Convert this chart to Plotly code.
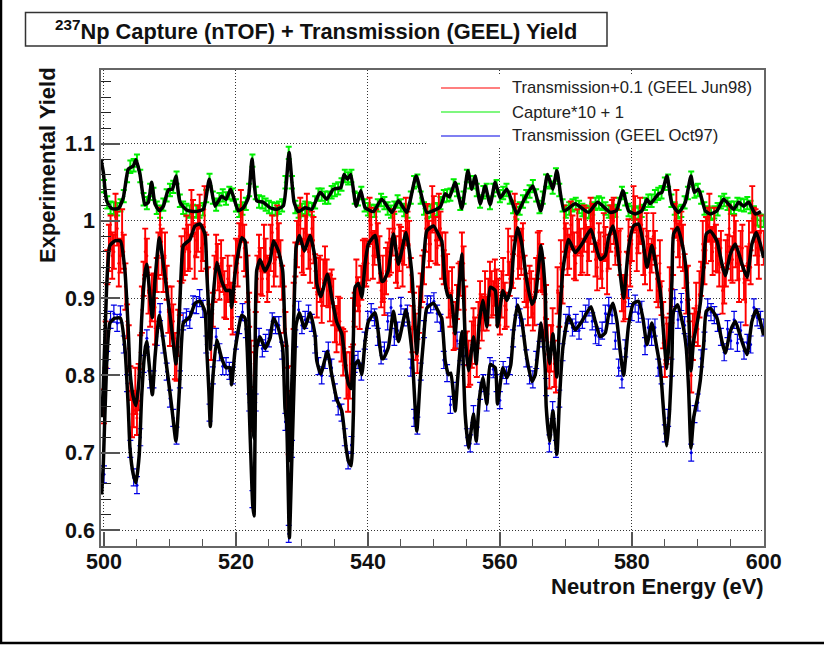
import numpy as np
import plotly.graph_objects as go

TITLE = "<sup>237</sup>Np Capture (nTOF) + Transmission (GEEL) Yield"
X_TITLE = "Neutron Energy (eV)"
Y_TITLE = "Experimental Yield"
LEGEND = ["Transmission+0.1 (GEEL Jun98)", "Capture*10 + 1", "Transmission (GEEL Oct97)"]
X_TICKS = [500, 520, 540, 560, 580, 600]
Y_TICKS = [0.6, 0.7, 0.8, 0.9, 1.0, 1.1]
Y_TICK_TEXT = ["0.6", "0.7", "0.8", "0.9", "1", "1.1"]

capture_fit_e = [499.54,499.9,500.4,501.16,502.17,502.93,503.69,504.44,504.85,505.46,506.2,506.72,507.22,507.73,508.39,509.0,509.75,510.36,510.91,511.52,512.53,513.8,515.06,515.97,516.83,517.84,518.5,519.2,520.37,521.12,521.88,522.44,523.15,524.16,525.17,526.18,527.19,528.05,528.81,529.47,530.48,531.49,532.75,533.76,534.77,535.89,536.39,536.9,537.4,538.21,538.92,539.58,540.84,542.1,543.62,544.63,545.89,547.31,548.93,550.95,551.71,552.37,553.22,554.24,555.15,555.75,556.26,557.02,557.77,558.53,559.29,560.05,561.06,562.58,563.59,565.0,566.21,567.22,568.03,568.64,569.75,571.42,573.44,574.81,576.73,577.64,578.65,579.5,580.52,581.53,582.29,582.79,584.05,584.56,585.32,586.08,587.09,588.1,588.96,589.46,590.12,591.13,591.89,592.9,593.91,595.43,596.19,596.94,597.7,598.71,599.57]
capture_fit_y = [1.08,1.063,1.026,1.016,1.016,1.03,1.067,1.071,1.079,1.06,1.021,1.024,1.05,1.022,1.013,1.019,1.04,1.041,1.058,1.024,1.014,1.012,1.015,1.054,1.019,1.032,1.028,1.041,1.013,1.017,1.03,1.08,1.026,1.024,1.017,1.015,1.0195,1.0885,1.024,1.012,1.017,1.015,1.037,1.028,1.041,1.043,1.06,1.054,1.06,1.019,1.039,1.017,1.012,1.028,1.011,1.026,1.011,1.058,1.011,1.018,1.035,1.031,1.05,1.016,1.065,1.041,1.058,1.022,1.045,1.021,1.05,1.03,1.041,1.009,1.026,1.045,1.013,1.06,1.041,1.065,1.013,1.022,1.011,1.024,1.011,1.013,1.039,1.013,1.009,1.013,1.028,1.022,1.035,1.037,1.058,1.022,1.011,1.024,1.058,1.037,1.041,1.013,1.009,1.013,1.028,1.015,1.024,1.019,1.024,1.009,1.012]

trans_fit_e = [499.64,499.9,500.4,500.9,501.66,502.5,503.18,503.69,503.94,504.44,504.85,505.35,505.7,506.2,506.47,507.33,507.73,508.39,509.0,509.75,510.26,510.91,511.42,511.77,512.03,513.04,513.8,514.55,515.3,515.6,515.9,516.12,516.47,517.08,517.84,518.5,519.1,519.35,519.86,520.87,521.38,521.73,522.13,522.54,522.74,522.9,523.15,523.65,524.4,525.17,525.68,526.43,527.09,527.44,527.7,528.1,528.45,528.96,529.11,529.62,530.38,531.24,531.99,532.25,532.85,533.86,534.52,535.28,536.04,536.7,537.05,537.45,537.8,538.06,538.56,539.07,539.58,540.08,541.09,542.1,542.35,543.1,543.87,544.63,545.79,546.65,547.41,547.91,548.42,548.93,549.94,550.95,551.2,551.71,552.21,552.57,553.22,553.58,554.08,554.24,554.74,555.25,555.5,556.0,556.41,556.91,557.42,558.03,558.53,559.29,559.64,560.45,561.06,561.66,562.07,562.68,563.33,563.99,564.85,565.35,566.26,566.87,567.02,567.53,568.03,568.64,569.04,569.55,570.41,571.42,572.43,573.8,574.45,575.21,575.97,576.47,577.13,577.74,578.24,578.75,579.5,580.26,581.02,581.68,582.29,583.04,583.8,584.31,584.56,584.81,585.32,585.72,586.08,586.33,586.94,587.75,588.25,588.6,588.96,589.36,589.97,590.37,590.88,591.28,591.89,592.9,593.66,594.16,594.92,595.68,596.69,597.45,598.2,598.87,599.47,599.97]
trans_fit_y = [0.646,0.685,0.814,0.868,0.874,0.874,0.835,0.757,0.706,0.672,0.661,0.698,0.771,0.832,0.844,0.775,0.823,0.878,0.844,0.795,0.76,0.715,0.78,0.845,0.868,0.876,0.8935,0.896,0.883,0.83,0.78,0.734,0.793,0.846,0.822,0.81,0.81,0.788,0.832,0.878,0.874,0.83,0.728,0.633,0.618,0.728,0.836,0.85,0.835,0.848,0.874,0.861,0.835,0.757,0.737,0.59,0.685,0.832,0.865,0.881,0.861,0.881,0.852,0.819,0.802,0.831,0.801,0.769,0.754,0.706,0.689,0.683,0.75,0.814,0.819,0.801,0.845,0.87,0.881,0.822,0.822,0.836,0.883,0.844,0.885,0.833,0.728,0.793,0.845,0.887,0.8935,0.878,0.874,0.819,0.801,0.803,0.754,0.793,0.845,0.857,0.75,0.706,0.719,0.75,0.715,0.771,0.797,0.763,0.814,0.81,0.763,0.81,0.797,0.814,0.857,0.891,0.87,0.827,0.792,0.801,0.868,0.809,0.76,0.715,0.754,0.698,0.771,0.836,0.876,0.859,0.87,0.889,0.87,0.85,0.855,0.878,0.8935,0.87,0.831,0.8,0.865,0.8935,0.896,0.874,0.84,0.868,0.835,0.809,0.784,0.754,0.709,0.754,0.823,0.883,0.8914,0.865,0.835,0.784,0.706,0.745,0.771,0.793,0.84,0.883,0.887,0.874,0.844,0.829,0.857,0.87,0.844,0.827,0.87,0.885,0.87,0.852]

# measured points, 0.5 eV bins
energy_half = [500 + i * 0.5 for i in range(201)]
energy_quarter = [500.25 + i * 0.5 for i in range(200)]

capture_pts = [1.045,1.024,1.017,1.016,1.015,1.02,1.032,1.058,1.07,1.072,1.078,1.058,1.028,1.023,1.04,1.035,1.017,1.012,1.021,1.033,1.04,1.044,1.056,1.026,1.017,1.014,1.012,1.013,1.012,1.012,1.015,1.032,1.053,1.03,1.021,1.028,1.033,1.029,1.036,1.034,1.02,1.013,1.016,1.022,1.04,1.078,1.036,1.025,1.024,1.021,1.018,1.016,1.015,1.017,1.02,1.05,1.088,1.05,1.018,1.012,1.014,1.017,1.016,1.015,1.024,1.034,1.034,1.03,1.03,1.037,1.04,1.042,1.047,1.058,1.055,1.058,1.03,1.028,1.036,1.02,1.015,1.013,1.013,1.02,1.027,1.023,1.016,1.012,1.017,1.025,1.02,1.014,1.012,1.03,1.05,1.052,1.03,1.016,1.011,1.013,1.014,1.015,1.023,1.032,1.033,1.034,1.046,1.04,1.022,1.03,1.058,1.05,1.05,1.04,1.025,1.037,1.04,1.023,1.04,1.045,1.032,1.036,1.04,1.03,1.018,1.01,1.016,1.025,1.032,1.038,1.045,1.033,1.018,1.03,1.052,1.05,1.043,1.06,1.04,1.02,1.012,1.016,1.02,1.022,1.018,1.014,1.012,1.011,1.016,1.022,1.024,1.022,1.016,1.012,1.012,1.013,1.022,1.036,1.028,1.014,1.011,1.009,1.011,1.013,1.022,1.026,1.026,1.032,1.035,1.037,1.048,1.052,1.026,1.016,1.011,1.013,1.024,1.036,1.056,1.038,1.04,1.03,1.016,1.011,1.009,1.011,1.015,1.024,1.027,1.022,1.017,1.017,1.022,1.021,1.02,1.023,1.018,1.011,1.002,1.0,1.0]

trans_98_a = [0.76,0.94,0.985,0.96,0.99,0.955,0.96,0.87,0.79,0.755,0.745,0.83,0.925,0.955,0.885,0.91,0.93,0.995,0.93,0.92,0.86,0.87,0.815,0.9,0.945,0.985,0.96,1.005,0.975,1.012,0.97,0.96,0.87,0.885,0.96,0.92,0.93,0.895,0.92,0.875,0.955,0.975,0.995,0.95,0.885,0.75,0.86,0.96,0.925,0.955,0.93,0.985,0.95,0.975,0.92,0.86,0.72,0.79,0.95,0.995,0.955,0.985,0.96,0.99,0.935,0.93,0.89,0.945,0.91,0.915,0.865,0.88,0.84,0.835,0.775,0.815,0.885,0.905,0.92,0.955,0.945,0.995,0.965,0.975,0.91,0.9,0.95,0.955,0.99,0.935,0.97,0.965,0.99,0.93,0.885,0.825,0.91,0.94,1.0,0.97,1.01,0.965,0.99,0.94,0.935,0.885,0.855,0.895,0.925,0.945,0.835,0.81,0.865,0.82,0.9,0.88,0.88,0.925,0.9,0.915,0.875,0.93,0.885,0.925,0.935,1.0,0.96,0.975,0.91,0.92,0.88,0.93,0.965,0.93,0.895,0.805,0.865,0.8,0.885,0.915,0.975,0.96,0.985,0.945,0.98,0.955,0.995,0.97,1.0,0.95,0.975,0.935,0.97,0.96,1.005,0.965,0.965,0.905,0.895,0.98,0.97,1.01,0.98,0.995,0.94,0.965,0.955,0.965,0.91,0.9,0.82,0.845,0.89,1.0,0.975,0.99,0.935,0.92,0.8,0.865,0.86,0.925,0.94,0.995,0.97,0.995,0.955,0.965,0.915,0.96,0.945,0.985,0.945,0.965,0.92,0.945,0.94,0.995,0.965,0.985,0.965]

trans_98_b = [0.84,0.965,0.955,1.005,0.945,0.985,0.915,0.835,0.75,0.78,0.785,0.885,0.96,0.91,0.9,0.87,0.955,0.96,0.955,0.885,0.885,0.825,0.855,0.95,0.96,0.965,1.01,0.955,0.99,0.965,1.015,0.91,0.85,0.925,0.94,0.945,0.905,0.925,0.89,0.925,0.945,1.01,0.965,0.925,0.815,0.8,0.925,0.935,0.965,0.925,0.965,0.945,0.99,0.945,0.885,0.78,0.75,0.89,0.97,1.0,0.96,1.005,0.95,0.975,0.905,0.925,0.92,0.92,0.9,0.895,0.86,0.87,0.83,0.8,0.8,0.87,0.92,0.89,0.945,0.945,1.0,0.955,0.985,0.95,0.925,0.935,0.96,0.985,0.95,0.965,0.945,1.0,0.97,0.86,0.85,0.885,0.925,0.99,0.97,1.015,0.975,1.005,0.955,0.955,0.905,0.91,0.865,0.915,0.955,0.885,0.815,0.84,0.845,0.865,0.875,0.905,0.895,0.905,0.92,0.895,0.905,0.89,0.96,0.95,1.005,0.955,0.96,0.925,0.895,0.905,0.895,0.955,0.94,0.875,0.835,0.835,0.815,0.91,0.945,0.99,0.96,0.995,0.955,0.985,0.96,0.99,0.96,1.0,0.99,0.94,0.955,0.98,0.935,0.99,1.0,0.985,0.96,0.9,0.93,0.945,1.015,0.965,1.0,0.96,0.98,0.94,0.98,0.925,0.945,0.865,0.845,0.91,0.96,1.01,0.97,0.965,0.91,0.84,0.85,0.89,0.905,0.97,0.975,1.005,0.96,0.965,0.945,0.91,0.945,0.99,0.95,0.97,0.925,0.965,0.895,0.97,1.015,0.985,0.955]

trans_97_pts = [0.672,0.82,0.872,0.88,0.868,0.879,0.84,0.79,0.705,0.668,0.658,0.72,0.815,0.848,0.795,0.795,0.85,0.882,0.84,0.805,0.77,0.745,0.722,0.795,0.87,0.875,0.872,0.892,0.891,0.9,0.886,0.84,0.752,0.8,0.85,0.83,0.812,0.812,0.806,0.8,0.845,0.865,0.882,0.86,0.765,0.64,0.765,0.85,0.835,0.842,0.848,0.87,0.865,0.865,0.832,0.74,0.595,0.705,0.848,0.885,0.865,0.872,0.88,0.868,0.84,0.812,0.8,0.82,0.832,0.81,0.778,0.76,0.752,0.72,0.69,0.71,0.815,0.82,0.805,0.845,0.872,0.882,0.875,0.85,0.826,0.832,0.87,0.888,0.85,0.858,0.89,0.875,0.88,0.81,0.745,0.735,0.805,0.86,0.892,0.892,0.896,0.88,0.868,0.82,0.803,0.762,0.78,0.845,0.83,0.825,0.72,0.712,0.75,0.722,0.78,0.79,0.765,0.812,0.808,0.79,0.768,0.807,0.8,0.812,0.848,0.889,0.875,0.862,0.822,0.8,0.795,0.82,0.855,0.848,0.785,0.712,0.755,0.705,0.77,0.83,0.868,0.878,0.862,0.868,0.858,0.872,0.88,0.888,0.87,0.852,0.85,0.858,0.88,0.89,0.878,0.845,0.81,0.795,0.835,0.9,0.882,0.893,0.88,0.885,0.838,0.862,0.85,0.862,0.81,0.8,0.725,0.745,0.81,0.9,0.872,0.895,0.865,0.84,0.7,0.75,0.765,0.822,0.845,0.888,0.882,0.878,0.868,0.85,0.83,0.86,0.845,0.872,0.842,0.858,0.832,0.842,0.84,0.888,0.875,0.872,0.862]

ERR_98_A = 0.022
ERR_98_B = 0.03
ERR_CAPTURE = 0.008
ERR_97 = 0.011

RED, GREEN, BLUE = "#ff0000", "#00f000", "#0000e6"


def points(x, y, err, color, thickness):
    return go.Scatter(
        x=x, y=y, mode="markers", marker=dict(size=3, color=color), showlegend=False,
        error_y=dict(type="constant", value=err, color=color, thickness=thickness, width=3),
        hoverinfo="skip",
    )


fig = go.Figure()
fig.add_trace(points(energy_half, capture_pts, ERR_CAPTURE, GREEN, 2))
fig.add_trace(points(energy_half, trans_97_pts, ERR_97, BLUE, 1.2))
fig.add_trace(points(energy_half, trans_98_a, ERR_98_A, RED, 1.9))
fig.add_trace(points(energy_quarter, trans_98_b, ERR_98_B, RED, 1.9))
line = dict(color="black", width=3.5, shape="spline", smoothing=0.5)
fig.add_trace(go.Scatter(x=trans_fit_e, y=trans_fit_y, mode="lines", line=line, showlegend=False))
fig.add_trace(go.Scatter(x=trans_fit_e, y=[v + 0.1 for v in trans_fit_y], mode="lines", line=line, showlegend=False))
fig.add_trace(go.Scatter(x=capture_fit_e, y=capture_fit_y, mode="lines", line=line, showlegend=False))

W, H = 824, 647
L, R_, T, B = 101, 60, 70, 101
PW, PH = W - L - R_, H - T - B
px = lambda v: (v - L) / PW
py = lambda v: (H - B - v) / PH

shapes = [
    dict(type="line", xref="paper", yref="paper", x0=px(1), x1=px(1), y0=py(0), y1=py(643), line=dict(color="black", width=2.5)),
    dict(type="line", xref="paper", yref="paper", x0=px(0), x1=px(824), y0=py(643), y1=py(643), line=dict(color="black", width=2.5)),
    dict(type="rect", xref="paper", yref="paper", x0=px(25.5), x1=px(607), y0=py(46), y1=py(12.5), line=dict(color="#333333", width=1.5), fillcolor="white"),
    dict(type="rect", xref="paper", yref="paper", x0=px(426), x1=px(762), y0=py(148), y1=py(74), line=dict(width=0), fillcolor="white", layer="above"),
]
annotations = [
    dict(xref="paper", yref="paper", x=px(316), y=py(30), text="<b>" + TITLE + "</b>", showarrow=False,
         font=dict(family="Liberation Sans", size=21.8, color="#111111"), xanchor="center", yanchor="middle"),
]
for name, color, yp in zip(LEGEND, [RED, GREEN, BLUE], [88, 112, 136]):
    shapes.append(dict(type="line", xref="paper", yref="paper", x0=px(441), x1=px(500), y0=py(yp), y1=py(yp), line=dict(color=color, width=1.2), layer="above"))
    annotations.append(dict(xref="paper", yref="paper", x=px(510), y=py(yp), text=name, showarrow=False,
                            font=dict(family="Liberation Sans", size=16.6, color="#222222"), xanchor="left", yanchor="middle"))

axfont = dict(family="Liberation Sans", size=21.5, color="#111111", weight="bold")
GRID_DASH = "1px,2px"
fig.update_layout(
    width=W, height=H, margin=dict(l=L, r=R_, t=T, b=B, pad=0, autoexpand=False),
    paper_bgcolor="white", plot_bgcolor="white", showlegend=False,
    shapes=shapes, annotations=annotations,
    font=dict(family="Liberation Sans"),
)
fig.update_xaxes(
    range=[499.55, 600.03], tickmode="array", tickvals=X_TICKS, ticktext=[str(v) for v in X_TICKS],
    tickfont=axfont, ticks="inside", ticklen=14, tickcolor="#555555", tickwidth=1.5, ticklabelstandoff=-5,
    minor=dict(dtick=5, tick0=500, ticks="inside", ticklen=7, tickcolor="#555555", tickwidth=1, showgrid=False),
    showgrid=True, gridcolor="#333333", griddash=GRID_DASH, gridwidth=1, zeroline=False,
    showline=True, mirror=True, linecolor="#666666", linewidth=1.5,
)
fig.update_yaxes(
    range=[0.5793, 1.1952], tickmode="array", tickvals=Y_TICKS, ticktext=Y_TICK_TEXT,
    tickfont=axfont, ticks="inside", ticklen=19, tickcolor="#555555", tickwidth=1.5,
    minor=dict(dtick=0.02, tick0=0.6, ticks="inside", ticklen=10, tickcolor="#222222", tickwidth=1, showgrid=False),
    showgrid=True, gridcolor="#333333", griddash=GRID_DASH, gridwidth=1, zeroline=False,
    showline=True, mirror=True, linecolor="#666666", linewidth=1.5,
)
fig.add_annotation(xref="paper", yref="paper", x=px(766), y=py(586), text="<b>" + X_TITLE + "</b>", showarrow=False,
                   font=dict(family="Liberation Sans", size=22, color="#111111"), xanchor="right", yanchor="middle")
fig.add_annotation(xref="paper", yref="paper", x=px(47), y=py(165), text="<b>" + Y_TITLE + "</b>", showarrow=False, textangle=-90,
                   font=dict(family="Liberation Sans", size=22, color="#111111"), xanchor="center", yanchor="middle")

fig.write_html("out.html", config={"displayModeBar": False},
               post_script="document.body.style.margin='0';document.body.style.overflow='hidden';")
